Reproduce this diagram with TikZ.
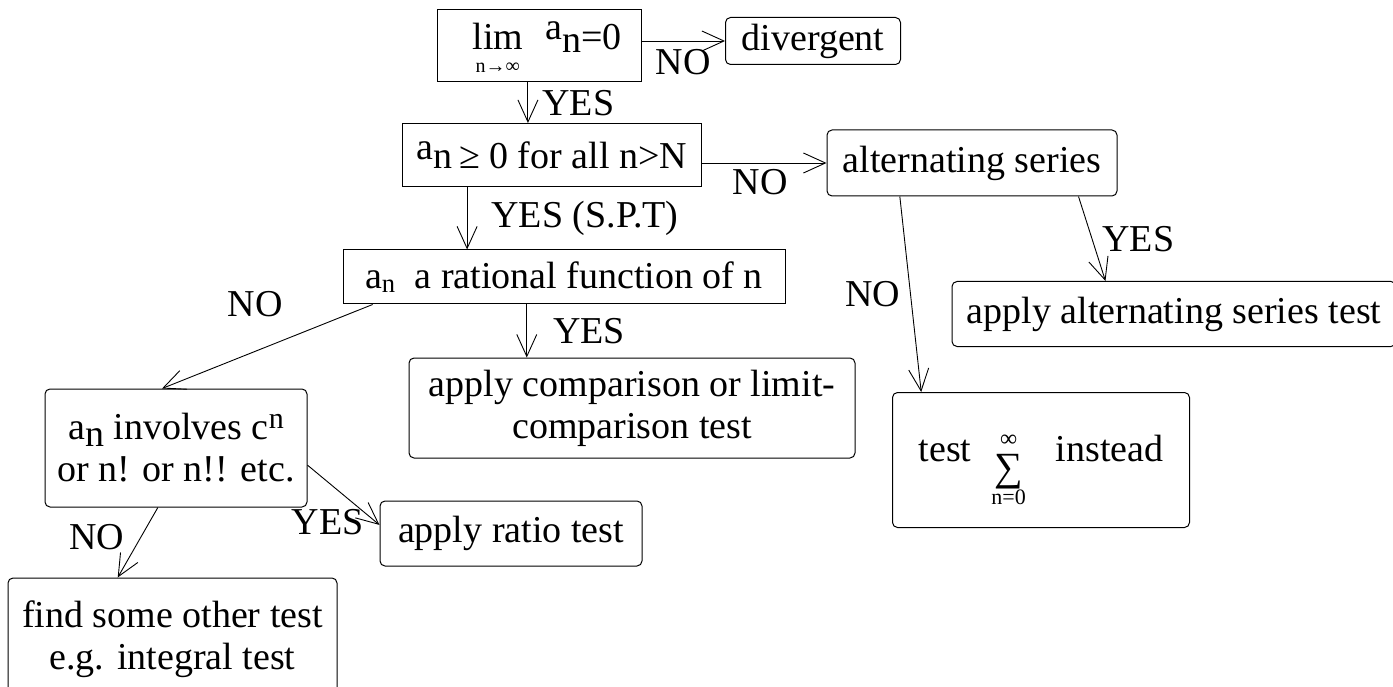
\documentclass[tikz,border=0pt]{standalone}
\usepackage{fontspec}
\setmainfont{Liberation Serif}
\usetikzlibrary{arrows.meta,calc}

\tikzset{
  box/.style={draw, line width=1pt, inner sep=0pt, align=center,
    font=\fontsize{38}{42}\selectfont},
  rbox/.style={box, rounded corners=5pt},
  arr/.style={-{Straight Barb[length=22pt,width=20pt]}, line width=0.9pt},
  lbl/.style={font=\fontsize{38}{42}\selectfont, inner sep=2pt},
}

\begin{document}
\begin{tikzpicture}[x=1pt,y=-1pt]
\useasboundingbox (0,0) rectangle (1393,687);

% square boxes
\node[box, minimum width=204pt, minimum height=72pt, text height=20pt, text depth=12pt] (lim) at (539,46)
  {\hspace*{16pt}\begin{tabular}[t]{@{}c@{}}lim\\[-19pt]\fontsize{20}{20}\selectfont n→∞\end{tabular}\hspace{22pt}\raisebox{10pt}{a}\raisebox{-3pt}{n}=0};
\node[box, minimum width=299pt, minimum height=63pt] (pos) at (552,155)
  {\raisebox{9pt}{a}n\,≥ 0 for all n>N};
\node[box, minimum width=442pt, minimum height=54pt] (rat) at (564,277)
  {a\textsubscript{n} \ a rational function of n};

% rounded boxes
\node[rbox, minimum width=175pt, minimum height=47pt] (div) at (813,41) {divergent};
\node[rbox, minimum width=290pt, minimum height=66pt] (alt) at (972,163) {alternating series};
\node[rbox, minimum width=444pt, minimum height=65pt] (apt) at (1174,314) {apply alternating series test};
\node[rbox, minimum width=446pt, minimum height=100pt] (cmp) at (632,408)
  {apply comparison or limit-\\comparison test};
\node[rbox, minimum width=297pt, minimum height=135pt, text height=20pt, text depth=17pt] (tst) at (1041,460)
  {test\hspace{20pt}\raisebox{15pt}{\begin{tabular}[t]{@{}c@{}}{\fontsize{24}{24}\selectfont ∞}\\[-8pt]{\fontsize{40}{40}\selectfont ∑}\\[-18pt]{\fontsize{22}{22}\selectfont n=0}\end{tabular}}\hspace{30pt}instead};
\node[rbox, minimum width=262pt, minimum height=118pt] (inv) at (176,448)
  {a\raisebox{-7pt}{n} involves c\raisebox{11pt}{\fontsize{30}{30}\selectfont n}\\or n! or n!! etc.};
\node[rbox, minimum width=262pt, minimum height=65pt] (rto) at (511,533.5) {apply ratio test};
\node[rbox, minimum width=329pt, minimum height=122pt] (fnd) at (172.5,639)
  {find some other test\\e.g. integral test};

% connectors
\draw[arr] (lim.east |- div.west) -- node[lbl, below=6pt]{NO} (div.west);
\draw[arr] ($(lim.south west)!.446!(lim.south east)$) coordinate (b1)
  -- node[lbl, right=12pt]{YES} (b1 |- pos.north);
\draw[arr] (pos.east |- alt.west) -- node[lbl, below=4pt, xshift=-4pt]{NO} (alt.west);
\draw[arr] ($(pos.south west)!.217!(pos.south east)$) coordinate (b2)
  -- node[lbl, right=22pt]{YES (S.P.T)} (b2 |- rat.north);
\draw[arr] ($(rat.south west)!.416!(rat.south east)$) coordinate (b3)
  -- node[lbl, right=24pt]{YES} (b3 |- cmp.north);
\draw[arr] ($(rat.south west)!.068!(rat.south east)$)
  -- node[lbl, xshift=-12pt, yshift=42pt]{NO} ($(inv.north west)!.447!(inv.north east)$);
\draw[arr] ($(inv.north east)!.644!(inv.south east)$)
  -- node[lbl, xshift=-16pt, yshift=-27pt]{YES} ($(rto.north west)!.37!(rto.south west)$);
\draw[arr] ($(inv.south west)!.431!(inv.south east)$)
  -- node[lbl, xshift=-41pt, yshift=5pt]{NO} ($(fnd.north west)!.334!(fnd.north east)$);
\draw[arr] ($(alt.south west)!.866!(alt.south east)$)
  -- node[lbl, right=8pt]{YES} ($(apt.north west)!.346!(apt.north east)$);
\draw[arr] ($(alt.south west)!.252!(alt.south east)$)
  -- node[lbl, left=8pt]{NO} ($(tst.north west)!.098!(tst.north east)$);
\end{tikzpicture}
\end{document}
